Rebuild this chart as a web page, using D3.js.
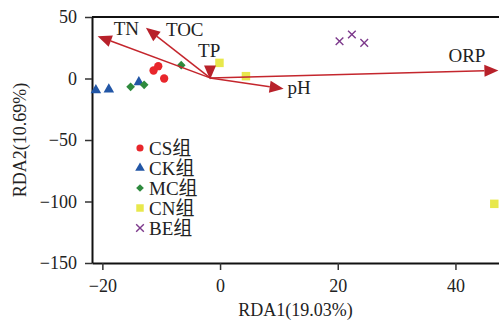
<!DOCTYPE html>
<html><head><meta charset="utf-8">
<script src="https://cdn.jsdelivr.net/npm/d3@7"></script>
<style>
html,body{margin:0;padding:0;background:#fff;}
svg{display:block;}
text{font-family:"Liberation Serif","Noto Sans CJK SC",serif;fill:#222;}
</style></head>
<body>
<svg id="chart" width="499" height="320"></svg>
<script>
// ---- data ----
const groups = ["CS组", "CK组", "MC组", "CN组", "BE组"];
const csPoints = [[-11.3, 6.5], [-10.5, 10], [-9.5, 0]];
const ckPoints = [[-21.1, -9.5], [-18.9, -8.9], [-13.8, -3]];
const mcPoints = [[-15.2, -6.8], [-12.9, -5.1], [-6.6, 10.8]];
const cnPoints = [[-0.1, 12.7], [4.4, 1.9], [46.6, -101.9]];
const bePoints = [[20.3, 30.3], [22.4, 35.8], [24.5, 29]];
const envNames = ["TN", "TOC", "TP", "pH", "ORP"];
const envX = [-20.8, -12.6, -1.7, 10.8, 47.3];
const envY = [34.4, 41.2, -0.9, -8.4, 6.6];
const envOrigin = [-1.7, 0.5];
const xTicks = [-20, 0, 20, 40];
const yTicks = [50, 0, -50, -100, -150];
const xTitle = "RDA1(19.03%)";
const yTitle = "RDA2(10.69%)";

// ---- styles ----
const colors = ["#e8262b", "#2256a6", "#2e8a3d", "#e8e84c", "#7d3a8c"];
const shapes = ["circle", "triangle", "diamond", "square", "times"];
const seriesPts = [csPoints, ckPoints, mcPoints, cnPoints, bePoints];

const svg = d3.select("#chart");
const x = d3.scaleLinear().domain([-21.76, 47.4]).range([92, 499]);
const y = d3.scaleLinear().domain([-150, 50]).range([263, 17]);

function symbolPath(shape) {
  if (shape === "circle") return d3.symbol(d3.symbolCircle, 54)();
  if (shape === "triangle") return d3.symbol(d3.symbolTriangle, 48)();
  if (shape === "diamond") return d3.symbol(d3.symbolSquare, 38)();
  if (shape === "square") return d3.symbol(d3.symbolSquare, 72)();
  return d3.symbol(d3.symbolTimes, 40)();
}
function drawMarker(g, shape, color) {
  const p = g.append("path").attr("d", symbolPath(shape));
  if (shape === "times") p.attr("fill", "none").attr("stroke", color).attr("stroke-width", 1.4);
  else p.attr("fill", color);
  if (shape === "diamond") p.attr("transform", "rotate(45)");
  return p;
}

// axes
const tickFmt = d => d < 0 ? "\u2212" + Math.abs(d) : String(d);
const xAxis = svg.append("g").attr("transform", `translate(0,${y(-150)})`)
  .call(d3.axisBottom(x).tickValues(xTicks).tickSize(7).tickSizeOuter(0).tickPadding(9).tickFormat(tickFmt));
const yAxis = svg.append("g").attr("transform", `translate(${x(-21.76)},0)`)
  .call(d3.axisLeft(y).tickValues(yTicks).tickSize(7).tickSizeOuter(0).tickPadding(8).tickFormat(tickFmt));
[xAxis, yAxis].forEach(a => {
  a.select(".domain").attr("stroke", "#111").attr("stroke-width", 2);
  a.selectAll(".tick line").attr("stroke", "#333").attr("stroke-width", 1.5);
  a.selectAll("text").attr("font-size", 18).attr("fill", "#222")
    .attr("font-family", "Liberation Serif, serif");
});
// top frame line
svg.append("line").attr("x1", x(-21.76)).attr("x2", 499).attr("y1", y(50)).attr("y2", y(50))
  .attr("stroke", "#111").attr("stroke-width", 2);

// axis titles
svg.append("text").attr("x", (x(-21.76) + 499) / 2).attr("y", 316)
  .attr("text-anchor", "middle").attr("font-size", 18).text(xTitle);
svg.append("text").attr("transform", `translate(26,${(y(50) + y(-150)) / 2}) rotate(-90)`)
  .attr("text-anchor", "middle").attr("font-size", 18).text(yTitle);

// points
seriesPts.forEach((pts, i) => {
  pts.forEach(p => {
    const g = svg.append("g").attr("transform", `translate(${x(p[0])},${y(p[1])})`);
    drawMarker(g, shapes[i], colors[i]);
  });
});

// arrows
const labelOffsets = { TN: [16, -1], TOC: [20, 8], TP: [-12, -23], pH: [4, 5], ORP: [-50, -8] };
const ox = x(envOrigin[0]), oy = y(envOrigin[1]);
const headLen = 14, headHalf = 6;
envNames.forEach((name, i) => {
  const tx = x(envX[i]), ty = y(envY[i]);
  const ang = Math.atan2(ty - oy, tx - ox);
  const bx = tx - headLen * Math.cos(ang), by = ty - headLen * Math.sin(ang);
  const len = Math.hypot(tx - ox, ty - oy);
  if (len > headLen) {
    svg.append("line").attr("x1", ox).attr("y1", oy).attr("x2", bx).attr("y2", by)
      .attr("stroke", "#c4262d").attr("stroke-width", 1.5);
  }
  const px = -Math.sin(ang) * headHalf, py = Math.cos(ang) * headHalf;
  svg.append("path")
    .attr("d", `M${tx},${ty}L${bx + px},${by + py}L${bx - px},${by - py}Z`)
    .attr("fill", "#b8212a");
  const off = labelOffsets[name];
  svg.append("text").attr("x", tx + off[0]).attr("y", ty + off[1])
    .attr("font-size", 19).text(name);
});

// legend
groups.forEach((gname, i) => {
  const cy = 148 + i * 20;
  const g = svg.append("g").attr("transform", `translate(140,${cy})`);
  drawMarker(g, shapes[i], colors[i]).attr("d", d3.symbol(
    shapes[i] === "circle" ? d3.symbolCircle : shapes[i] === "triangle" ? d3.symbolTriangle :
    shapes[i] === "times" ? d3.symbolTimes : d3.symbolSquare,
    shapes[i] === "square" ? 56 : shapes[i] === "diamond" ? 30 : 40)());
  svg.append("text").attr("x", 149).attr("y", cy).attr("dy", "0.36em")
    .attr("font-size", 19).text(gname);
});
</script>
</body></html>
